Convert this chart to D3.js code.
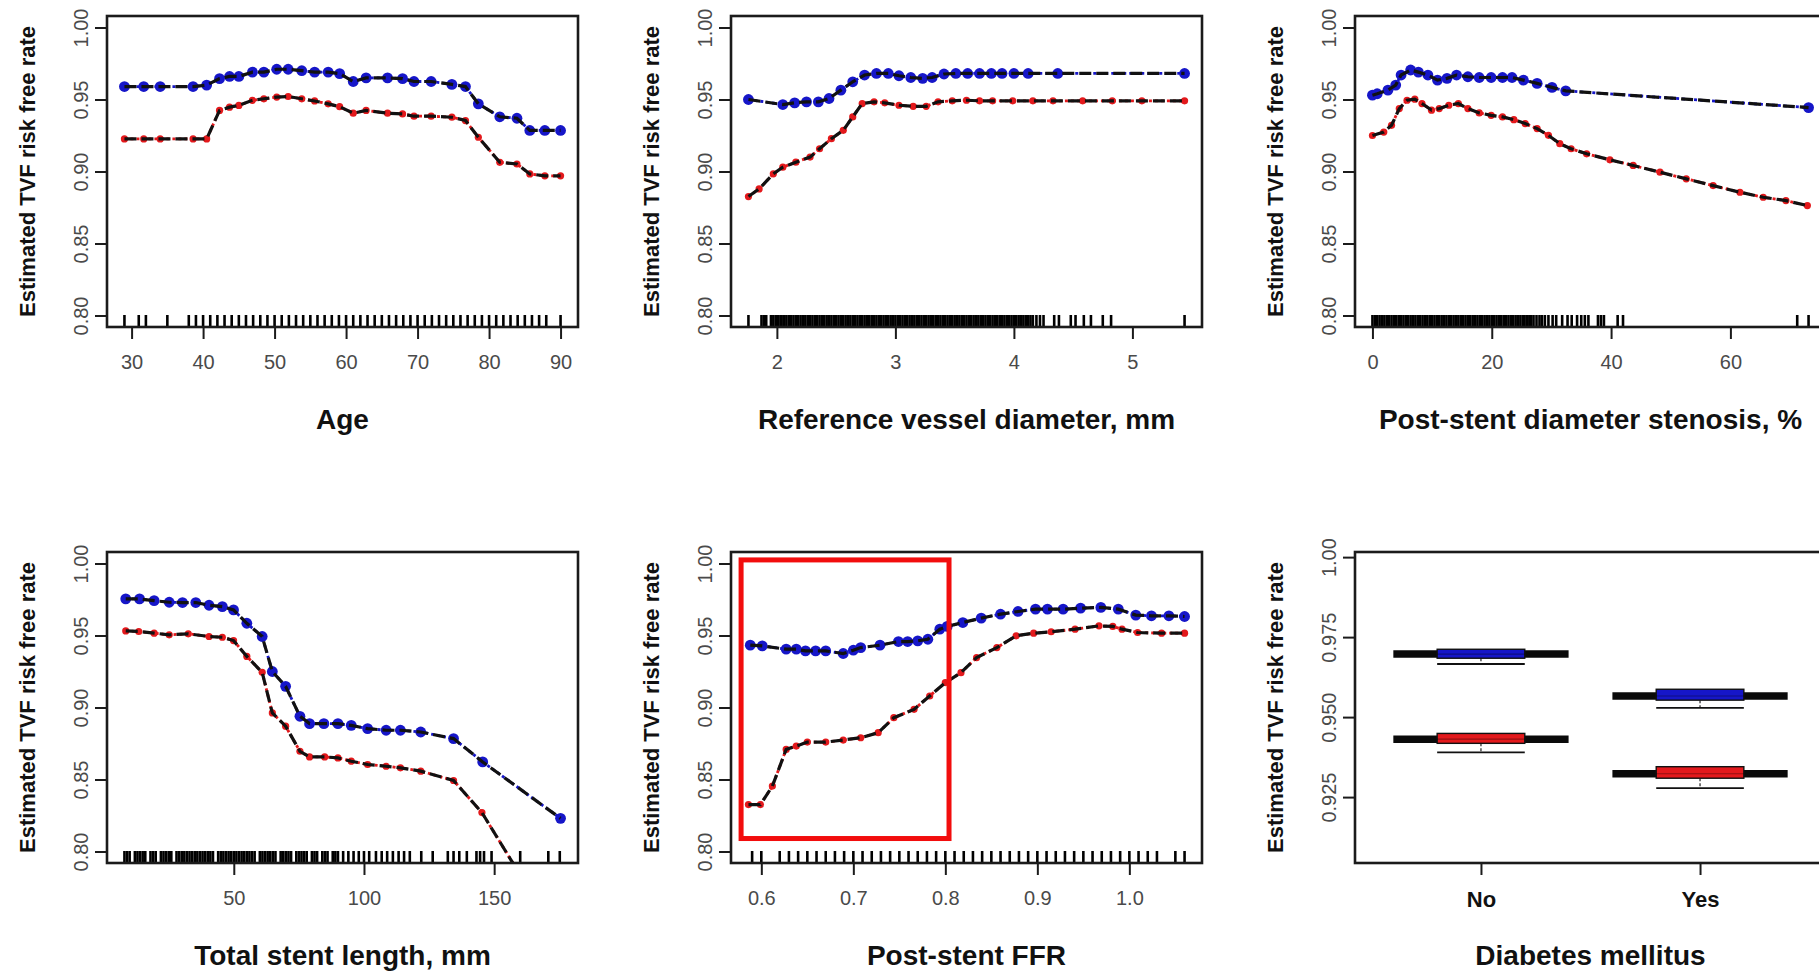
<!DOCTYPE html>
<html><head><meta charset="utf-8">
<script src="https://cdn.jsdelivr.net/npm/d3@7"></script>
<style>
body{margin:0;background:#fff}
svg{display:block}
text{font-family:"Liberation Sans",Arial,Helvetica,sans-serif}
</style>
</head><body>
<svg id="c" width="1819" height="974"></svg>
<script>
// ---------------- DATA ----------------
const yTitle = "Estimated TVF risk free rate";
const rateTicks = [0.80, 0.85, 0.90, 0.95, 1.00];

// Panel 1: Age
const ageTitle = "Age";
const ageTicks = [30, 40, 50, 60, 70, 80, 90];
const ageX = [29, 31.7, 34, 38.6, 40.5, 42.3, 43.7, 45, 46.9, 48.5, 50.3, 51.9, 53.8, 55.6, 57.5, 59.1, 61, 62.8, 65.8, 67.9, 69.5, 71.9, 74.8, 76.7, 78.5, 81.5, 83.9, 85.7, 87.8, 90];
const ageBlue = [0.959, 0.959, 0.959, 0.959, 0.960, 0.9645, 0.966, 0.966, 0.969, 0.969, 0.971, 0.971, 0.970, 0.969, 0.969, 0.968, 0.9625, 0.965, 0.965, 0.9645, 0.9625, 0.9625, 0.9605, 0.959, 0.947, 0.938, 0.937, 0.9285, 0.9285, 0.9285];
const ageRed = [0.9226, 0.9226, 0.9226, 0.9226, 0.9226, 0.9424, 0.9447, 0.9459, 0.9494, 0.9505, 0.9517, 0.9521, 0.9505, 0.949, 0.947, 0.945, 0.9405, 0.9424, 0.9405, 0.940, 0.9384, 0.9384, 0.9377, 0.9354, 0.9238, 0.9064, 0.9052, 0.8983, 0.897, 0.897];
const ageRug = [29,31,32,35,38,39,40,41,42,43,44,45,46,47,48,49,50,51,52,53,54,55,56,57,58,59,60,61,62,63,64,65,66,67,68,69,70,71,72,73,74,75,76,77,78,79,80,81,82,83,84,85,86,87,88,90];

// Panel 2: Reference vessel diameter
const rvdTitle = "Reference vessel diameter, mm";
const rvdTicks = [2, 3, 4, 5];
const rvdXBlue = [1.76, 2.05, 2.15, 2.25, 2.35, 2.44, 2.54, 2.64, 2.74, 2.84, 2.94, 3.03, 3.13, 3.23, 3.31, 3.41, 3.51, 3.61, 3.71, 3.81, 3.90, 4.00, 4.12, 4.37, 5.44];
const rvdBlue = [0.950, 0.9465, 0.9477, 0.9484, 0.9484, 0.9507, 0.9565, 0.9623, 0.967, 0.9681, 0.9681, 0.9665, 0.9653, 0.9647, 0.9653, 0.9677, 0.9681, 0.9681, 0.9681, 0.9681, 0.9681, 0.9681, 0.9681, 0.9681, 0.9681];
const rvdXRed = [1.76, 1.85, 1.97, 2.05, 2.16, 2.28, 2.36, 2.46, 2.56, 2.64, 2.72, 2.82, 2.91, 3.03, 3.15, 3.26, 3.36, 3.48, 3.60, 3.71, 3.82, 3.99, 4.16, 4.33, 4.58, 4.83, 5.08, 5.44];
const rvdRed = [0.8826, 0.8879, 0.8984, 0.903, 0.9065, 0.910, 0.9158, 0.9228, 0.9286, 0.9379, 0.9472, 0.9484, 0.9477, 0.946, 0.9453, 0.9453, 0.9484, 0.9491, 0.9495, 0.9491, 0.9491, 0.9491, 0.9491, 0.9491, 0.9491, 0.9491, 0.9491, 0.9491];
const rvdRug = [1.76,1.87,1.89,1.91,1.95,1.97,1.99,2.01,2.03,
 2.04,2.06,2.08,2.10,2.12,2.14,2.16,2.18,2.20,2.22,2.24,2.26,2.28,2.30,2.32,2.34,2.36,2.38,2.40,2.42,2.44,2.46,2.48,2.50,2.52,2.54,2.56,2.58,2.60,2.62,2.64,2.66,2.68,2.70,2.72,2.74,2.76,2.78,2.80,2.82,2.84,2.86,2.88,2.90,2.92,2.94,2.96,2.98,
 3.00,3.02,3.04,3.06,3.08,3.10,3.12,3.14,3.16,3.18,3.20,3.22,3.24,3.26,3.28,3.30,3.32,3.34,3.36,3.38,3.40,3.42,3.44,3.46,3.48,3.50,3.52,3.54,3.56,3.58,3.60,3.62,3.64,3.66,3.68,3.70,3.72,3.74,3.76,3.78,3.80,3.82,3.84,3.86,3.88,3.90,3.92,3.94,3.96,3.98,
 4.00,4.02,4.04,4.06,4.08,4.10,4.12,4.14,4.16,4.19,4.22,4.25,4.34,4.38,4.48,4.52,4.59,4.65,4.75,4.82,5.44];

// Panel 3: Post-stent diameter stenosis
const stenTitle = "Post-stent diameter stenosis, %";
const stenTicks = [0, 20, 40, 60];
const stenXBlue = [0, 0.8, 2.6, 3.9, 4.8, 6.4, 7.7, 9.3, 10.9, 12.5, 14.1, 16.0, 17.9, 19.9, 21.8, 23.4, 25.3, 27.6, 30.1, 32.4, 73.1];
const stenBlue = [0.953, 0.954, 0.9565, 0.96, 0.967, 0.9705, 0.969, 0.967, 0.9635, 0.9647, 0.967, 0.9658, 0.9653, 0.9653, 0.9653, 0.9653, 0.9635, 0.9612, 0.9584, 0.956, 0.9444];
const stenXRed = [0, 1.9, 3.2, 4.5, 5.8, 7.1, 8.3, 9.9, 11.2, 12.8, 14.4, 16.0, 17.9, 19.9, 21.8, 23.7, 25.6, 27.6, 29.5, 31.4, 33.3, 35.9, 39.8, 43.7, 48.2, 52.6, 57.1, 61.6, 65.5, 69.3, 72.9];
const stenRed = [0.925, 0.9274, 0.9321, 0.9437, 0.9495, 0.9502, 0.9472, 0.9426, 0.9437, 0.946, 0.9472, 0.9437, 0.9407, 0.939, 0.9379, 0.936, 0.9333, 0.9298, 0.9251, 0.9193, 0.9158, 0.9123, 0.9081, 0.9042, 0.8995, 0.8949, 0.8902, 0.8856, 0.8821, 0.8798, 0.8763];
const stenRug = [0,0.4,0.8,1.2,1.6,2,2.4,2.8,3.2,3.6,4,4.4,4.8,5.2,5.6,6,6.4,6.8,7.2,7.6,8,8.4,8.8,9.2,9.6,10,10.4,10.8,11.2,11.6,12,12.4,12.8,13.2,13.6,14,14.4,14.8,15.2,15.6,16,16.4,16.8,17.2,17.6,18,18.4,18.8,19.2,19.6,20,20.4,20.8,21.2,21.6,22,22.4,22.8,23.2,23.6,24,
 24.4,24.8,25.2,25.5,25.9,26.3,26.6,27,27.5,28,28.4,28.9,29.5,30.2,30.8,31.8,32.7,33.4,34.3,35,35.6,36.2,37.8,38.3,38.8,41.1,42,71.2,73.1];

// Panel 4: Total stent length
const lenTitle = "Total stent length, mm";
const lenTicks = [50, 100, 150];
const lenXBlue = [8.5, 13.8, 19.4, 25.2, 30.3, 35.4, 40.5, 45.6, 49.9, 55.0, 60.9, 64.8, 69.9, 75.4, 79.1, 84.6, 90, 95.1, 101.4, 108.5, 114.0, 121.8, 134.4, 145.6, 175.5];
const lenBlue = [0.9754, 0.9754, 0.9742, 0.9731, 0.9729, 0.9729, 0.971, 0.9701, 0.9678, 0.9585, 0.9493, 0.925, 0.9147, 0.8939, 0.8888, 0.8888, 0.8888, 0.8876, 0.8853, 0.8842, 0.8842, 0.883, 0.8784, 0.8622, 0.823];
const lenXRed = [8.5, 13.5, 19.4, 25.2, 32.5, 40.5, 45.6, 49.9, 55, 60.9, 64.8, 69.9, 75.4, 79.1, 84.9, 90, 95.1, 101.4, 108.5, 114, 121.8, 134.4, 145.3, 175.5];
const lenRed = [0.9532, 0.9528, 0.9516, 0.9505, 0.9512, 0.9493, 0.9488, 0.9465, 0.9355, 0.9244, 0.8962, 0.887, 0.8696, 0.8657, 0.8657, 0.865, 0.8627, 0.8604, 0.8592, 0.8581, 0.8558, 0.8493, 0.827, 0.738];
const lenRug = [8,9,10,12,13,14,15,16,18,19,20,22,23,24,25,26,28,29,30,31,32,33,34,35,36,37,38,39,40,41,42,44,45,46,47,48,49,50,51,52,53,54,55,56,57,58,60,61,62,63,64,65,66,68,69,70,71,72,74,75,76,77,78,80,81,82,84,85,86,88,89,90,92,94,96,98,100,102,
 104.6,106.8,108.9,111.1,113.3,115.4,117.6,122,126.4,132.2,134.4,136.6,139.5,143.2,144.6,146.1,149,160,170.8,175.2];

// Panel 5: Post-stent FFR
const ffrTitle = "Post-stent FFR";
const ffrTicks = [0.6, 0.7, 0.8, 0.9, 1.0];
const ffrXBlue = [0.588, 0.601, 0.627, 0.638, 0.648, 0.659, 0.670, 0.689, 0.700, 0.708, 0.729, 0.749, 0.759, 0.770, 0.781, 0.794, 0.802, 0.819, 0.839, 0.860, 0.879, 0.898, 0.911, 0.928, 0.947, 0.969, 0.988, 1.007, 1.024, 1.043, 1.06];
const ffrBlue = [0.9433, 0.9428, 0.9405, 0.9405, 0.9393, 0.9393, 0.9393, 0.9375, 0.9398, 0.9416, 0.9433, 0.9458, 0.9458, 0.9463, 0.9474, 0.9544, 0.9563, 0.959, 0.9621, 0.9648, 0.9667, 0.9683, 0.9683, 0.9683, 0.969, 0.9695, 0.9683, 0.9642, 0.9637, 0.9637, 0.9632];
const ffrXRed = [0.586, 0.599, 0.612, 0.627, 0.638, 0.650, 0.670, 0.689, 0.708, 0.727, 0.744, 0.766, 0.783, 0.800, 0.817, 0.834, 0.856, 0.877, 0.896, 0.915, 0.941, 0.967, 0.982, 0.992, 1.009, 1.035, 1.06];
const ffrRed = [0.8326, 0.8326, 0.8454, 0.8709, 0.8732, 0.876, 0.876, 0.8774, 0.879, 0.8825, 0.8929, 0.8987, 0.908, 0.9173, 0.9242, 0.9347, 0.9416, 0.9498, 0.9516, 0.9526, 0.9544, 0.9567, 0.9563, 0.9544, 0.9521, 0.9516, 0.9516];
const ffrRug = [0.59,0.60,0.62,0.63,0.64,0.65,0.66,0.67,0.68,0.69,0.70,0.71,0.72,0.73,0.74,0.75,0.76,0.77,0.78,0.79,0.80,0.81,0.82,0.83,0.84,0.85,0.86,0.87,0.88,0.89,0.90,0.91,0.92,0.93,0.94,0.95,0.96,0.97,0.98,0.99,1.00,1.01,1.02,1.03,1.05,1.06];
// highlighted region (FFR range, rate range)
const ffrHighlightX = [0.578, 0.804];
const ffrHighlightY = [0.809, 1.0025];

// Panel 6: Diabetes mellitus
const dmTitle = "Diabetes mellitus";
const dmCats = ["No", "Yes"];
const dmTicks = [0.925, 0.950, 0.975, 1.00];
const dmBlueMed = [0.9697, 0.9566];
const dmBlueQ3 = [0.9712, 0.9587];
const dmBlueQ1 = [0.9684, 0.9553];
const dmBlueLow = [0.9666, 0.9529];
const dmRedMed = [0.9431, 0.9323];
const dmRedQ3 = [0.9449, 0.9345];
const dmRedQ1 = [0.9418, 0.9309];
const dmRedLow = [0.9390, 0.9278];

// ---------------- LAYOUT / STYLE ----------------
const svg = d3.select("#c");
svg.append("rect").attr("width", 1819).attr("height", 974).attr("fill", "#fff");
const colLeft = [107, 731, 1355], panelW = 471;
const rowTop = [16, 552], rowBot = [327, 863];
const BLUE = "#1616c8", RED = "#e3191c", INK = "#1b1b1b", TICKTXT = "#4a4a4a";
const YDOM = [0.792, 1.008];

function pad4(ext) { const r = ext[1] - ext[0]; return [ext[0] - 0.04 * r, ext[1] + 0.04 * r]; }

function frameAndTitles(L, T, B, title) {
  const R = L + panelW;
  svg.append("rect").attr("x", L).attr("y", T).attr("width", panelW).attr("height", B - T)
    .attr("fill", "none").attr("stroke", INK).attr("stroke-width", 2.6);
  svg.append("text").attr("x", (L + R) / 2).attr("y", B + 102).attr("text-anchor", "middle")
    .attr("font-size", 28).attr("font-weight", "bold").attr("fill", "#111").text(title);
  svg.append("text").attr("transform", `translate(${L - 72},${(T + B) / 2}) rotate(-90)`)
    .attr("text-anchor", "middle").attr("font-size", 22).attr("font-weight", "bold").attr("fill", "#111").text(yTitle);
}

function yAxis(L, y, ticks, fmt) {
  const g = svg.append("g").attr("transform", `translate(${L},0)`)
    .call(d3.axisLeft(y).tickValues(ticks).tickSize(12).tickFormat(fmt));
  g.select(".domain").remove();
  g.selectAll(".tick line").attr("stroke", INK).attr("stroke-width", 2);
  g.selectAll(".tick text").attr("x", null).attr("dy", null)
    .attr("transform", "translate(-19,0) rotate(-90)").attr("text-anchor", "middle")
    .attr("font-size", 20).attr("fill", TICKTXT).attr("font-family", "Liberation Sans, Arial, sans-serif");
}

function xAxis(B, x, ticks, fmt, bold) {
  const g = svg.append("g").attr("transform", `translate(0,${B})`)
    .call(d3.axisBottom(x).tickValues(ticks).tickSize(12).tickPadding(16).tickFormat(fmt));
  g.select(".domain").remove();
  g.selectAll(".tick line").attr("stroke", INK).attr("stroke-width", 2);
  g.selectAll(".tick text").attr("font-size", bold ? 22 : 20).attr("font-weight", bold ? "bold" : "normal")
    .attr("fill", bold ? "#111" : TICKTXT).attr("font-family", "Liberation Sans, Arial, sans-serif");
}

function series(g, x, y, xs, ys, color, r) {
  const pts = xs.map((d, i) => [d, ys[i]]);
  const line = d3.line().x(d => x(d[0])).y(d => y(d[1]));
  g.append("path").datum(pts).attr("d", line).attr("fill", "none")
    .attr("stroke", color).attr("stroke-width", 2.8).attr("stroke-dasharray", "3 3");
  g.selectAll(null).data(pts).join("circle").attr("cx", d => x(d[0])).attr("cy", d => y(d[1]))
    .attr("r", r).attr("fill", color);
  g.append("path").datum(pts).attr("d", line).attr("fill", "none")
    .attr("stroke", "#111").attr("stroke-width", 3.2).attr("stroke-dasharray", "12 5");
}

let clipN = 0;
function linePanel(col, row, cfg) {
  const L = colLeft[col], T = rowTop[row], B = rowBot[row], R = L + panelW;
  const allX = [].concat(cfg.xb, cfg.xr, cfg.rug);
  const x = d3.scaleLinear().domain(pad4(d3.extent(allX))).range([L, R]);
  const y = d3.scaleLinear().domain(YDOM).range([B, T]);
  const cid = "clip" + (clipN++);
  svg.append("clipPath").attr("id", cid).append("rect").attr("x", L).attr("y", T).attr("width", panelW).attr("height", B - T);
  const pg = svg.append("g").attr("clip-path", `url(#${cid})`);
  pg.selectAll(null).data(cfg.rug).join("line")
    .attr("x1", d => x(d)).attr("x2", d => x(d)).attr("y1", B).attr("y2", B - 12)
    .attr("stroke", "#000").attr("stroke-width", 2.6);
  series(pg, x, y, cfg.xr, cfg.yr, RED, 3.6);
  series(pg, x, y, cfg.xb, cfg.yb, BLUE, 5.4);
  frameAndTitles(L, T, B, cfg.title);
  yAxis(L, y, rateTicks, d3.format(".2f"));
  xAxis(B, x, cfg.ticks, cfg.fmt, false);
  return { x, y };
}

linePanel(0, 0, { title: ageTitle, ticks: ageTicks, fmt: d3.format("d"), xb: ageX, yb: ageBlue, xr: ageX, yr: ageRed, rug: ageRug });
linePanel(1, 0, { title: rvdTitle, ticks: rvdTicks, fmt: d3.format("d"), xb: rvdXBlue, yb: rvdBlue, xr: rvdXRed, yr: rvdRed, rug: rvdRug });
linePanel(2, 0, { title: stenTitle, ticks: stenTicks, fmt: d3.format("d"), xb: stenXBlue, yb: stenBlue, xr: stenXRed, yr: stenRed, rug: stenRug });
linePanel(0, 1, { title: lenTitle, ticks: lenTicks, fmt: d3.format("d"), xb: lenXBlue, yb: lenBlue, xr: lenXRed, yr: lenRed, rug: lenRug });
const ffr = linePanel(1, 1, { title: ffrTitle, ticks: ffrTicks, fmt: d3.format(".1f"), xb: ffrXBlue, yb: ffrBlue, xr: ffrXRed, yr: ffrRed, rug: ffrRug });

// highlight box
svg.append("rect")
  .attr("x", ffr.x(ffrHighlightX[0])).attr("y", ffr.y(ffrHighlightY[1]))
  .attr("width", ffr.x(ffrHighlightX[1]) - ffr.x(ffrHighlightX[0]))
  .attr("height", ffr.y(ffrHighlightY[0]) - ffr.y(ffrHighlightY[1]))
  .attr("fill", "none").attr("stroke", "#f20d0d").attr("stroke-width", 5);

// Panel 6 (categorical)
(function () {
  const L = colLeft[2], T = rowTop[1], B = rowBot[1], R = L + panelW;
  const x = d3.scalePoint().domain(dmCats).range([L, R]).padding(0.575);
  const y = d3.scaleLinear().domain([0.9044, 1.0016]).range([B, T]);
  const step = x.step(), wide = 0.8 * step, inner = 0.4 * step;
  const groups = [
    { color: BLUE, med: dmBlueMed, q3: dmBlueQ3, q1: dmBlueQ1, low: dmBlueLow },
    { color: RED, med: dmRedMed, q3: dmRedQ3, q1: dmRedQ1, low: dmRedLow }
  ];
  const g = svg.append("g");
  groups.forEach(s => {
    dmCats.forEach((c, i) => {
      const cx = x(c);
      const med = s.med[i], q3 = s.q3[i], q1 = s.q1[i], low = s.low[i];
      g.append("line").attr("x1", cx).attr("x2", cx).attr("y1", y(q1)).attr("y2", y(low))
        .attr("stroke", "#222").attr("stroke-width", 1.2).attr("stroke-dasharray", "3 2");
      g.append("line").attr("x1", cx - inner / 2).attr("x2", cx + inner / 2).attr("y1", y(low)).attr("y2", y(low))
        .attr("stroke", "#111").attr("stroke-width", 1.8);
      g.append("line").attr("x1", cx - wide / 2).attr("x2", cx + wide / 2).attr("y1", y(med)).attr("y2", y(med))
        .attr("stroke", "#0a0a0a").attr("stroke-width", 7.5);
      g.append("rect").attr("x", cx - inner / 2).attr("y", y(q3)).attr("width", inner)
        .attr("height", y(q1) - y(q3)).attr("fill", s.color).attr("stroke", "#111").attr("stroke-width", 1.4);
      g.append("line").attr("x1", cx - inner / 2).attr("x2", cx + inner / 2).attr("y1", y(med)).attr("y2", y(med))
        .attr("stroke", "#000").attr("stroke-opacity", 0.35).attr("stroke-width", 1.2);
    });
  });
  frameAndTitles(L, T, B, dmTitle);
  yAxis(L, y, dmTicks, d => d === 1 ? "1.00" : d.toFixed(3));
  xAxis(B, x, dmCats, d => d, true);
})();
</script>
</body></html>
